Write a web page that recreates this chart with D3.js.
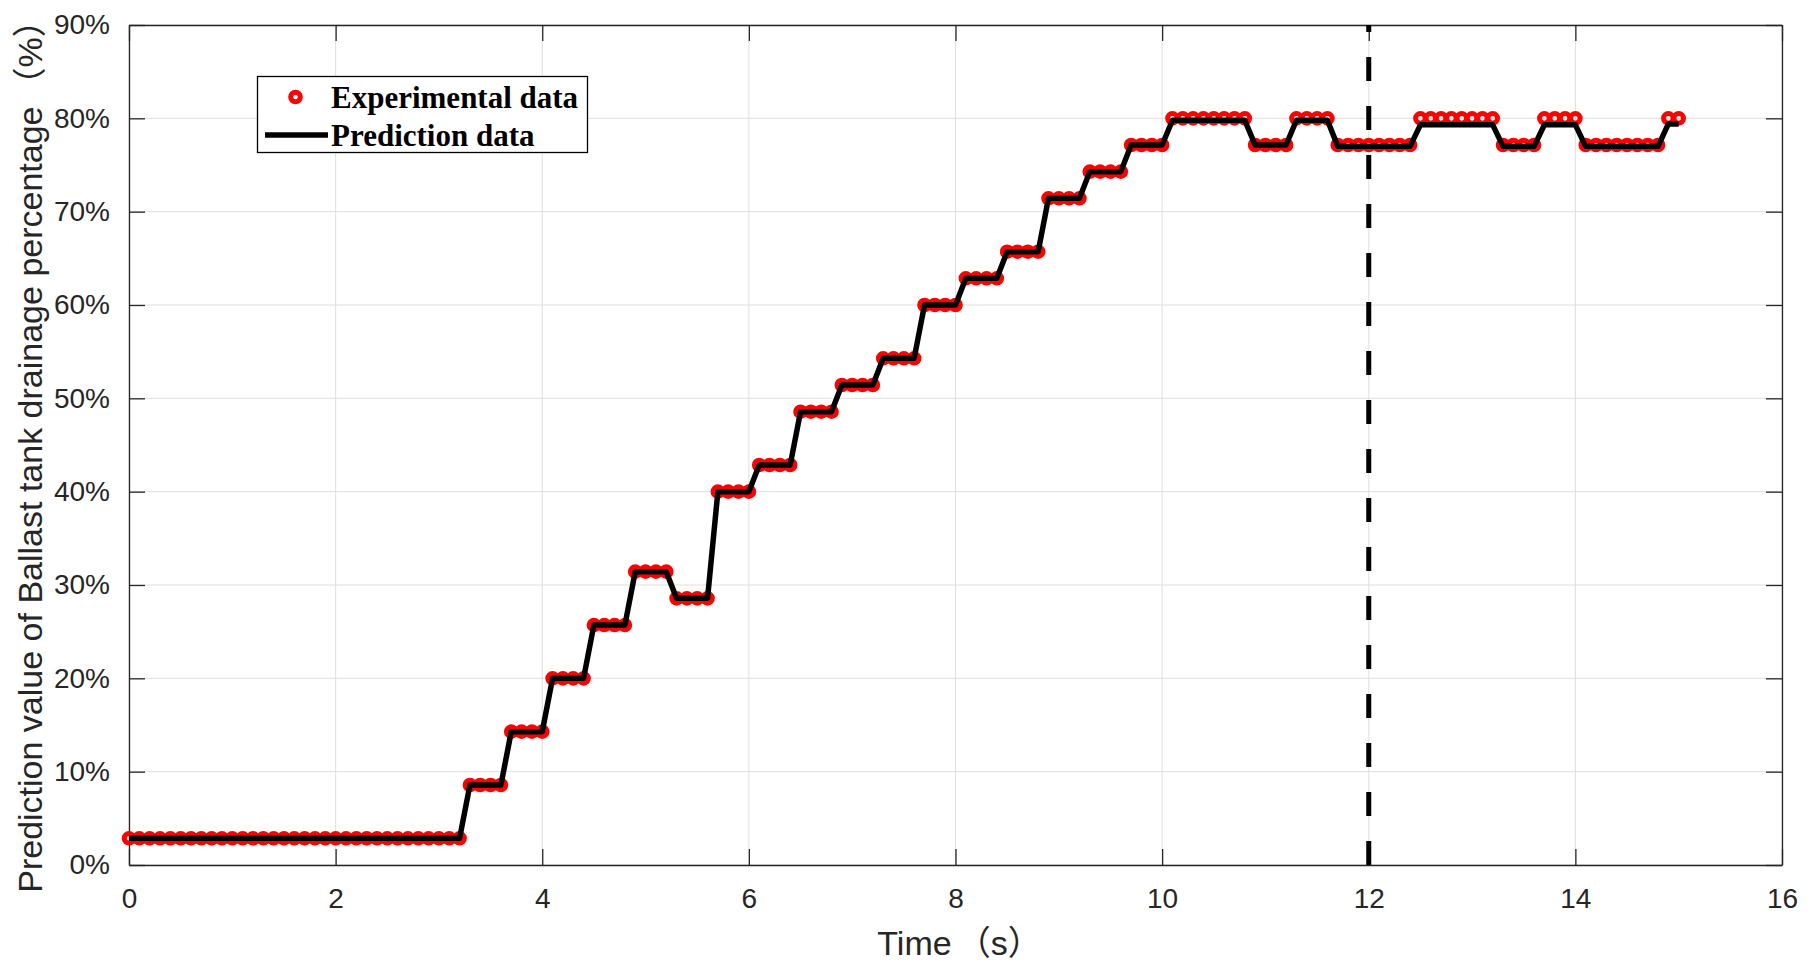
<!DOCTYPE html>
<html>
<head>
<meta charset="utf-8">
<script src="https://cdn.jsdelivr.net/npm/d3@7"></script>
<style>
  body { margin: 0; background: #ffffff; }
  .tick text { font-family: "Liberation Sans", Arial, sans-serif; }
</style>
</head>
<body>
<div id="plot"></div>
<script>
// sample times (s)
const TIME = [
  0.0, 0.1, 0.2, 0.3, 0.4, 0.5, 0.6, 0.7, 0.8, 0.9,
  1.0, 1.1, 1.2, 1.3, 1.4, 1.5, 1.6, 1.7, 1.8, 1.9,
  2.0, 2.1, 2.2, 2.3, 2.4, 2.5, 2.6, 2.7, 2.8, 2.9,
  3.0, 3.1, 3.2, 3.3, 3.4, 3.5, 3.6, 3.7, 3.8, 3.9,
  4.0, 4.1, 4.2, 4.3, 4.4, 4.5, 4.6, 4.7, 4.8, 4.9,
  5.0, 5.1, 5.2, 5.3, 5.4, 5.5, 5.6, 5.7, 5.8, 5.9,
  6.0, 6.1, 6.2, 6.3, 6.4, 6.5, 6.6, 6.7, 6.8, 6.9,
  7.0, 7.1, 7.2, 7.3, 7.4, 7.5, 7.6, 7.7, 7.8, 7.9,
  8.0, 8.1, 8.2, 8.3, 8.4, 8.5, 8.6, 8.7, 8.8, 8.9,
  9.0, 9.1, 9.2, 9.3, 9.4, 9.5, 9.6, 9.7, 9.8, 9.9,
  10.0, 10.1, 10.2, 10.3, 10.4, 10.5, 10.6, 10.7, 10.8, 10.9,
  11.0, 11.1, 11.2, 11.3, 11.4, 11.5, 11.6, 11.7, 11.8, 11.9,
  12.0, 12.1, 12.2, 12.3, 12.4, 12.5, 12.6, 12.7, 12.8, 12.9,
  13.0, 13.1, 13.2, 13.3, 13.4, 13.5, 13.6, 13.7, 13.8, 13.9,
  14.0, 14.1, 14.2, 14.3, 14.4, 14.5, 14.6, 14.7, 14.8, 14.9,
  15.0
];

// experimental drainage percentage (%)
const EXPERIMENTAL = [
  2.86, 2.86, 2.86, 2.86, 2.86, 2.86, 2.86, 2.86, 2.86, 2.86,
  2.86, 2.86, 2.86, 2.86, 2.86, 2.86, 2.86, 2.86, 2.86, 2.86,
  2.86, 2.86, 2.86, 2.86, 2.86, 2.86, 2.86, 2.86, 2.86, 2.86,
  2.86, 2.86, 2.86, 8.57, 8.57, 8.57, 8.57, 14.29, 14.29, 14.29,
  14.29, 20.00, 20.00, 20.00, 20.00, 25.71, 25.71, 25.71, 25.71, 31.43,
  31.43, 31.43, 31.43, 28.57, 28.57, 28.57, 28.57, 40.00, 40.00, 40.00,
  40.00, 42.86, 42.86, 42.86, 42.86, 48.57, 48.57, 48.57, 48.57, 51.43,
  51.43, 51.43, 51.43, 54.29, 54.29, 54.29, 54.29, 60.00, 60.00, 60.00,
  60.00, 62.86, 62.86, 62.86, 62.86, 65.71, 65.71, 65.71, 65.71, 71.43,
  71.43, 71.43, 71.43, 74.29, 74.29, 74.29, 74.29, 77.14, 77.14, 77.14,
  77.14, 80.00, 80.00, 80.00, 80.00, 80.00, 80.00, 80.00, 80.00, 77.14,
  77.14, 77.14, 77.14, 80.00, 80.00, 80.00, 80.00, 77.14, 77.14, 77.14,
  77.14, 77.14, 77.14, 77.14, 77.14, 80.00, 80.00, 80.00, 80.00, 80.00,
  80.00, 80.00, 80.00, 77.14, 77.14, 77.14, 77.14, 80.00, 80.00, 80.00,
  80.00, 77.14, 77.14, 77.14, 77.14, 77.14, 77.14, 77.14, 77.14, 80.00,
  80.00
];

// predicted drainage percentage (%)
const PREDICTION = [
  2.86, 2.86, 2.86, 2.86, 2.86, 2.86, 2.86, 2.86, 2.86, 2.86,
  2.86, 2.86, 2.86, 2.86, 2.86, 2.86, 2.86, 2.86, 2.86, 2.86,
  2.86, 2.86, 2.86, 2.86, 2.86, 2.86, 2.86, 2.86, 2.86, 2.86,
  2.86, 2.86, 2.86, 8.57, 8.57, 8.57, 8.57, 14.29, 14.29, 14.29,
  14.29, 20.00, 20.00, 20.00, 20.00, 25.71, 25.71, 25.71, 25.71, 31.43,
  31.43, 31.43, 31.43, 28.57, 28.57, 28.57, 28.57, 40.00, 40.00, 40.00,
  40.00, 42.86, 42.86, 42.86, 42.86, 48.57, 48.57, 48.57, 48.57, 51.43,
  51.43, 51.43, 51.43, 54.29, 54.29, 54.29, 54.29, 60.00, 60.00, 60.00,
  60.00, 62.86, 62.86, 62.86, 62.86, 65.71, 65.71, 65.71, 65.71, 71.43,
  71.43, 71.43, 71.43, 74.29, 74.29, 74.29, 74.29, 77.14, 77.14, 77.14,
  77.14, 79.80, 79.80, 79.80, 79.80, 79.80, 79.80, 79.80, 79.80, 77.14,
  77.14, 77.14, 77.14, 79.80, 79.80, 79.80, 79.80, 77.00, 77.00, 77.00,
  77.00, 77.00, 77.00, 77.00, 77.00, 79.30, 79.30, 79.30, 79.30, 79.30,
  79.30, 79.30, 79.30, 77.00, 77.00, 77.00, 77.00, 79.30, 79.30, 79.30,
  79.30, 77.00, 77.00, 77.00, 77.00, 77.00, 77.00, 77.00, 77.00, 79.40,
  79.40
];

const X_TICKS = [0, 2, 4, 6, 8, 10, 12, 14, 16];
const Y_TICKS = [0, 10, 20, 30, 40, 50, 60, 70, 80, 90];
const SPLIT_TIME = 12;
const LEGEND_LABELS = ["Experimental data", "Prediction data"];

// frame constants
const FRAME_WIDTH = 1810;
const FRAME_HEIGHT = 970;
const MARGINS = {left: 129, right: 28, top: 25, bottom: 105};
const VIS_WIDTH = FRAME_WIDTH - (MARGINS.left + MARGINS.right);
const VIS_HEIGHT = FRAME_HEIGHT - (MARGINS.top + MARGINS.bottom);
const AXIS_COLOR = "#262626";
const TICK_LEN = 16;
const LABEL_FONT = "'Liberation Sans', Arial, sans-serif";
const CJK_FONT = "'Noto Sans CJK SC', 'Noto Sans CJK JP', sans-serif";

const DATA = TIME.map((t, i) => {
  return {t: t, exp: EXPERIMENTAL[i], pred: PREDICTION[i]};
});

const FRAME = d3.select("#plot")
  .append("svg")
  .attr("width", FRAME_WIDTH)
  .attr("height", FRAME_HEIGHT);

const X_SCALE = d3.scaleLinear()
  .domain([0, 16])
  .range([0, VIS_WIDTH]);

const Y_SCALE = d3.scaleLinear()
  .domain([0, 90])
  .range([VIS_HEIGHT, 0]);

const PLOT = FRAME.append("g")
  .attr("transform", "translate(" + MARGINS.left + "," + MARGINS.top + ")");

// grid
PLOT.append("g")
  .selectAll("line")
  .data(X_TICKS)
  .enter()
  .append("line")
  .attr("x1", (d) => X_SCALE(d))
  .attr("x2", (d) => X_SCALE(d))
  .attr("y1", 0)
  .attr("y2", VIS_HEIGHT)
  .attr("stroke", "#dfdfdf")
  .attr("stroke-width", 1);

PLOT.append("g")
  .selectAll("line")
  .data(Y_TICKS)
  .enter()
  .append("line")
  .attr("x1", 0)
  .attr("x2", VIS_WIDTH)
  .attr("y1", (d) => Y_SCALE(d))
  .attr("y2", (d) => Y_SCALE(d))
  .attr("stroke", "#dfdfdf")
  .attr("stroke-width", 1);

// axes (ticks point inward, box on)
function styleAxis(g) {
  g.select(".domain").attr("stroke", AXIS_COLOR).attr("stroke-width", 1.3);
  g.selectAll(".tick line").attr("stroke", AXIS_COLOR).attr("stroke-width", 1.3);
  g.selectAll(".tick text").attr("fill", AXIS_COLOR).attr("font-size", "28px");
}

PLOT.append("g")
  .attr("transform", "translate(0," + VIS_HEIGHT + ")")
  .call(d3.axisBottom(X_SCALE).tickValues(X_TICKS).tickSizeInner(-TICK_LEN).tickSizeOuter(0).tickPadding(23))
  .call(styleAxis);

PLOT.append("g")
  .call(d3.axisLeft(Y_SCALE).tickValues(Y_TICKS).tickSizeInner(-TICK_LEN).tickSizeOuter(0).tickPadding(19)
    .tickFormat((d) => d + "%"))
  .call(styleAxis);

PLOT.append("g")
  .call(d3.axisTop(X_SCALE).tickValues(X_TICKS).tickSizeInner(-TICK_LEN).tickSizeOuter(0).tickFormat(""))
  .call(styleAxis);

PLOT.append("g")
  .attr("transform", "translate(" + VIS_WIDTH + ",0)")
  .call(d3.axisRight(Y_SCALE).tickValues(Y_TICKS).tickSizeInner(-TICK_LEN).tickSizeOuter(0).tickFormat(""))
  .call(styleAxis);

// experimental markers
PLOT.append("g")
  .selectAll("circle")
  .data(DATA)
  .enter()
  .append("circle")
  .attr("cx", (d) => X_SCALE(d.t))
  .attr("cy", (d) => Y_SCALE(d.exp))
  .attr("r", 4.8)
  .attr("fill", "none")
  .attr("stroke", "#ff0000")
  .attr("stroke-width", 5);

// prediction line
const LINE = d3.line()
  .x((d) => X_SCALE(d.t))
  .y((d) => Y_SCALE(d.pred));

PLOT.append("path")
  .datum(DATA)
  .attr("d", LINE)
  .attr("fill", "none")
  .attr("stroke", "#000000")
  .attr("stroke-width", 5.5)
  .attr("stroke-linejoin", "round");

// dashed split line
PLOT.append("line")
  .attr("x1", X_SCALE(SPLIT_TIME))
  .attr("x2", X_SCALE(SPLIT_TIME))
  .attr("y1", Y_SCALE(0))
  .attr("y2", Y_SCALE(90))
  .attr("stroke", "#000000")
  .attr("stroke-width", 5)
  .attr("stroke-dasharray", "24,25");

// axis labels, full-width brackets drawn with the CJK font
function addLabel(sel, before, inner, gap) {
  sel.append("tspan").attr("font-family", LABEL_FONT).text(before);
  sel.append("tspan").attr("font-family", CJK_FONT).attr("dx", gap).text("（");
  sel.append("tspan").attr("font-family", LABEL_FONT).text(inner);
  sel.append("tspan").attr("font-family", CJK_FONT).text("）");
  sel.append("tspan").attr("dx", gap).text("");
}

const X_LABEL = FRAME.append("text")
  .attr("x", MARGINS.left + VIS_WIDTH / 2 + 4)
  .attr("y", 955)
  .attr("text-anchor", "middle")
  .attr("font-size", "34px")
  .attr("fill", AXIS_COLOR);
addLabel(X_LABEL, "Time", "s", 5);

const Y_LABEL = FRAME.append("text")
  .attr("transform", "translate(42," + (MARGINS.top + VIS_HEIGHT / 2 + 3) + ") rotate(-90)")
  .attr("text-anchor", "middle")
  .attr("font-size", "34px")
  .attr("fill", AXIS_COLOR);
addLabel(Y_LABEL, "Prediction value of Ballast tank drainage percentage", "%", 5);

// legend
const LEGEND = FRAME.append("g");

LEGEND.append("rect")
  .attr("x", 257.5)
  .attr("y", 76.5)
  .attr("width", 330)
  .attr("height", 76)
  .attr("fill", "#ffffff")
  .attr("stroke", "#000000")
  .attr("stroke-width", 1.3);

LEGEND.append("circle")
  .attr("cx", 295.5)
  .attr("cy", 97)
  .attr("r", 4.8)
  .attr("fill", "none")
  .attr("stroke", "#ff0000")
  .attr("stroke-width", 5);

LEGEND.append("line")
  .attr("x1", 265)
  .attr("x2", 328)
  .attr("y1", 135)
  .attr("y2", 135)
  .attr("stroke", "#000000")
  .attr("stroke-width", 5.5);

LEGEND.selectAll("text")
  .data(LEGEND_LABELS)
  .enter()
  .append("text")
  .attr("x", 331)
  .attr("y", (d, i) => 108 + i * 38)
  .attr("font-family", "'Liberation Serif', 'Times New Roman', serif")
  .attr("font-weight", "bold")
  .attr("font-size", "31px")
  .attr("fill", "#000000")
  .text((d) => d);
</script>
</body>
</html>
